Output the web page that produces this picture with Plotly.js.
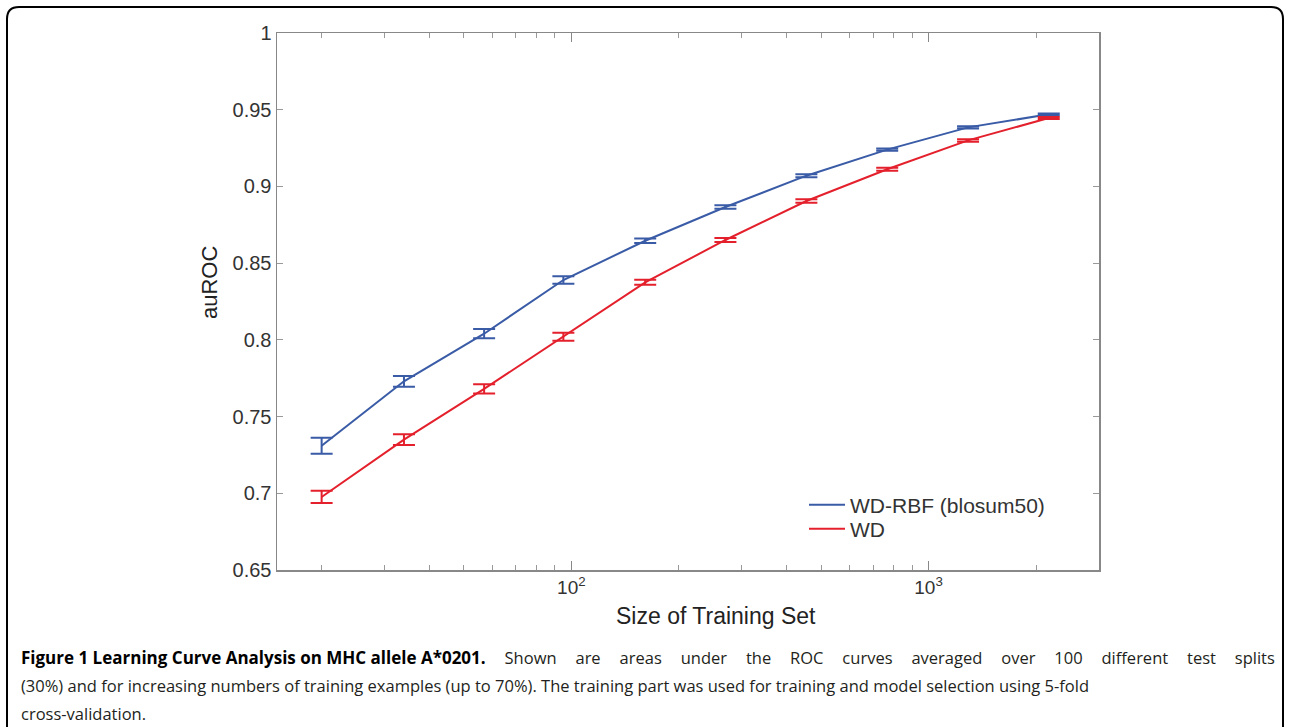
<!DOCTYPE html>
<html>
<head>
<meta charset="utf-8">
<script src="https://cdn.plot.ly/plotly-3.0.1.min.js"></script>
<style>
  html, body { margin: 0; padding: 0; background: #fff; }
  #chart { width: 1289px; height: 727px; }
</style>
</head>
<body>
<div id="chart"></div>
<script>
// Training set sizes (x)
const trainingSizes = [20, 34, 57, 95, 161, 270, 455, 766, 1290, 2170];

// WD-RBF (blosum50)
const wdRbfAuroc = [0.731, 0.773, 0.804, 0.839, 0.8646, 0.8866, 0.907, 0.924, 0.9385, 0.947];
const wdRbfErr   = [0.0052, 0.0035, 0.003, 0.0025, 0.0015, 0.0012, 0.001, 0.0008, 0.0007, 0.0006];

// WD
const wdAuroc = [0.6976, 0.735, 0.768, 0.802, 0.8375, 0.8651, 0.8905, 0.9112, 0.930, 0.9446];
const wdErr   = [0.004, 0.0035, 0.003, 0.0026, 0.0016, 0.0013, 0.0011, 0.0009, 0.0008, 0.0007];

const seriesNames = ['WD-RBF (blosum50)', 'WD'];

// Axis ticks and titles
const yTickVals = [0.65, 0.7, 0.75, 0.8, 0.85, 0.9, 0.95, 1];
const yTickText = ['0.65', '0.7', '0.75', '0.8', '0.85', '0.9', '0.95', '1'];
const xMajorVals = [100, 1000];
const xMajorText = ['10<sup>2</sup>', '10<sup>3</sup>'];
const xMinorVals = [20, 30, 40, 50, 60, 70, 80, 90, 200, 300, 400, 500, 600, 700, 800, 900, 2000, 3000];
const xTitle = 'Size of Training Set';
const yTitle = 'auROC';

const captionBold = 'Figure 1 Learning Curve Analysis on MHC allele A*0201.';
const captionLines = [
  ' Shown are areas under the ROC curves averaged over 100 different test splits',
  '(30%) and for increasing numbers of training examples (up to 70%). The training part was used for training and model selection using 5-fold',
  'cross-validation.'
];

const blue = '#3a5ba6';
const red = '#e3202c';

const traces = [
  {
    x: trainingSizes, y: wdRbfAuroc, name: seriesNames[0], type: 'scatter', mode: 'lines',
    line: { color: blue, width: 2 }, legend: 'legend',
    error_y: { type: 'data', array: wdRbfErr, visible: true, color: blue, thickness: 2, width: 11 }
  },
  {
    x: trainingSizes, y: wdAuroc, name: seriesNames[1], type: 'scatter', mode: 'lines',
    line: { color: red, width: 2 }, legend: 'legend2',
    error_y: { type: 'data', array: wdErr, visible: true, color: red, thickness: 2, width: 11 }
  }
];

const L = 277, R = 1099, T = 33, B = 570;
const W = R - L, H = B - T;
const px = v => (v - L) / W;
const py = v => (B - v) / H;

const capFont = { family: 'Open Sans, sans-serif', size: 16.5, color: '#231f20' };
const annotations = [];
captionLines.forEach((t, i) => {
  const txt = i === 0 ? '<b><span style="font-size:17px;color:#000">' + captionBold + '</span></b>' + t : t;
  annotations.push({
    text: txt, xref: 'paper', yref: 'paper',
    x: px(19), y: py(657 + 28 * i), xanchor: 'left', yanchor: 'middle',
    showarrow: false, align: 'left', font: capFont
  });
});
annotations.push({
  text: xTitle, xref: 'paper', yref: 'paper', x: px(716), y: py(616),
  xanchor: 'center', yanchor: 'middle', showarrow: false,
  font: { family: 'Liberation Sans, Arial, sans-serif', size: 23, color: '#222' }
});
annotations.push({
  text: yTitle, xref: 'paper', yref: 'paper', x: px(209), y: py(283),
  xanchor: 'center', yanchor: 'middle', showarrow: false, textangle: -90,
  font: { family: 'Liberation Sans, Arial, sans-serif', size: 22, color: '#222' }
});

// rounded frame
const fx0 = px(7), fx1 = px(1283), fy0 = py(7), fy1 = py(735);
const rx = 12 / W, ry = 12 / H;
const framePath = `M ${fx0} ${fy1} L ${fx0} ${fy0 - ry} Q ${fx0} ${fy0} ${fx0 + rx} ${fy0} L ${fx1 - rx} ${fy0} Q ${fx1} ${fy0} ${fx1} ${fy0 - ry} L ${fx1} ${fy1}`;

const legendFont = { family: 'Liberation Sans, Arial, sans-serif', size: 21, color: '#333' };
const legendBase = {
  xanchor: 'left', yanchor: 'middle', bgcolor: 'rgba(0,0,0,0)', borderwidth: 0,
  font: legendFont, itemwidth: 36
};

const layout = {
  width: 1289, height: 727,
  margin: { l: L, r: 1289 - R, t: T, b: 727 - B },
  paper_bgcolor: '#fff', plot_bgcolor: '#fff',
  font: { family: 'Liberation Sans, Arial, sans-serif', color: '#333' },
  showlegend: true,
  legend: Object.assign({}, legendBase, { x: px(804), y: py(505) }),
  legend2: Object.assign({}, legendBase, { x: px(804), y: py(529) }),
  xaxis: {
    type: 'log',
    range: [Math.log10(15), Math.log10(3000)],
    tickmode: 'array', tickvals: xMajorVals, ticktext: xMajorText,
    ticks: 'inside', ticklen: 9, tickwidth: 1, tickcolor: '#888',
    minor: { tickmode: 'array', tickvals: xMinorVals, ticks: 'inside', ticklen: 5, tickwidth: 1, tickcolor: '#999', showgrid: false },
    showline: true, linecolor: '#888', linewidth: 1.5, mirror: 'allticks',
    showgrid: false, zeroline: false,
    tickfont: { size: 19, color: '#333' }
  },
  yaxis: {
    range: [0.65, 1],
    tickmode: 'array', tickvals: yTickVals, ticktext: yTickText,
    ticks: 'inside', ticklen: 6, tickwidth: 1, tickcolor: '#999',
    showline: true, linecolor: '#888', linewidth: 1.5, mirror: 'allticks',
    showgrid: false, zeroline: false,
    tickfont: { size: 20, color: '#333' }
  },
  annotations: annotations,
  shapes: [{
    type: 'path', xref: 'paper', yref: 'paper', path: framePath,
    line: { color: '#000', width: 2 }, layer: 'above'
  }]
};

Plotly.newPlot('chart', traces, layout, { displayModeBar: false, staticPlot: true }).then(gd => {
  // justify the first caption line like the printed figure (right edge ~1276px)
  const t = gd.querySelector('.annotation[data-index="0"] text.annotation-text');
  if (!t) return;
  const box = t.getBBox();
  const target = 1276 - 19 - 3;
  const nSpaces = (captionLines[0].match(/ /g) || []).length;
  const extra = (target - box.width) / nSpaces;
  if (extra > 0) {
    t.style.wordSpacing = extra + 'px';
    t.querySelectorAll('tspan').forEach(s => {
      if ((s.getAttribute('style') || '').indexOf('bold') >= 0 || s.closest('tspan[style*="bold"]')) {
        s.style.wordSpacing = '0px';
      }
    });
  }
});
</script>
</body>
</html>
